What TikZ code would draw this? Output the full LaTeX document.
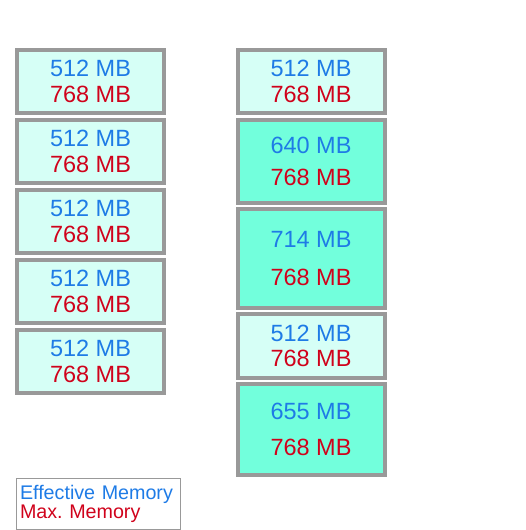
\documentclass[tikz,border=0pt]{standalone}
\usepackage{fontspec}
\setmainfont{Liberation Sans}
\usepackage{tikz}
\usetikzlibrary{positioning}
\definecolor{memblue}{RGB}{30,123,230}
\definecolor{memred}{RGB}{208,2,27}
\definecolor{memgris}{RGB}{153,153,153}
\definecolor{memclair}{RGB}{214,255,246}
\definecolor{memvif}{RGB}{114,255,220}
\frenchspacing
\newcommand{\memtxt}[2][0pt]{{\color{memblue}#2 MB}\\[#1]{\color{memred}768 MB}}
\tikzset{
  membox/.style={rectangle, draw=memgris, line width=4pt, fill=memclair,
                 minimum width=147pt, inner sep=0pt, align=center,
                 font=\fontsize{23.5}{25.7}\selectfont},
  memboxvif/.style={membox, fill=memvif},
  legende/.style={rectangle, draw=memgris, line width=1pt, inner xsep=4pt,
                  inner ysep=0pt, text width=156pt, align=left,
                  minimum height=51pt, font=\fontsize{19.7}{20.5}\selectfont}
}
\begin{document}
\begin{tikzpicture}[x=1pt, y=-1pt]
  \useasboundingbox (0,0) rectangle (525,530);
  % colonne de gauche
  \foreach \i/\yc in {1/81.5, 2/151.5, 3/221.5, 4/291.5, 5/361.5}
    \node[membox, minimum height=63pt] (g\i) at (90.5,\yc) {\memtxt{512}};
  % colonne de droite
  \node[membox, minimum height=63pt] (d1) at (311,81.5) {\memtxt{512}};
  \node[memboxvif, minimum height=83pt] (d2) at (311,161.5) {\memtxt[7pt]{640}};
  \node[memboxvif, minimum height=99pt] (d3) at (311,258.5) {\memtxt[12pt]{714}};
  \node[membox, minimum height=64pt] (d4) at (311,346) {\memtxt{512}};
  \node[memboxvif, minimum height=91pt] (d5) at (311,429.5) {\memtxt[11pt]{655}};
  % legende
  \node[legende, anchor=north west] (leg) at (15.5,477.5)
    {\raisebox{-1.5pt}{\color{memblue}Effective Memory}\\{\color{memred}Max. Memory}};
\end{tikzpicture}
\end{document}
